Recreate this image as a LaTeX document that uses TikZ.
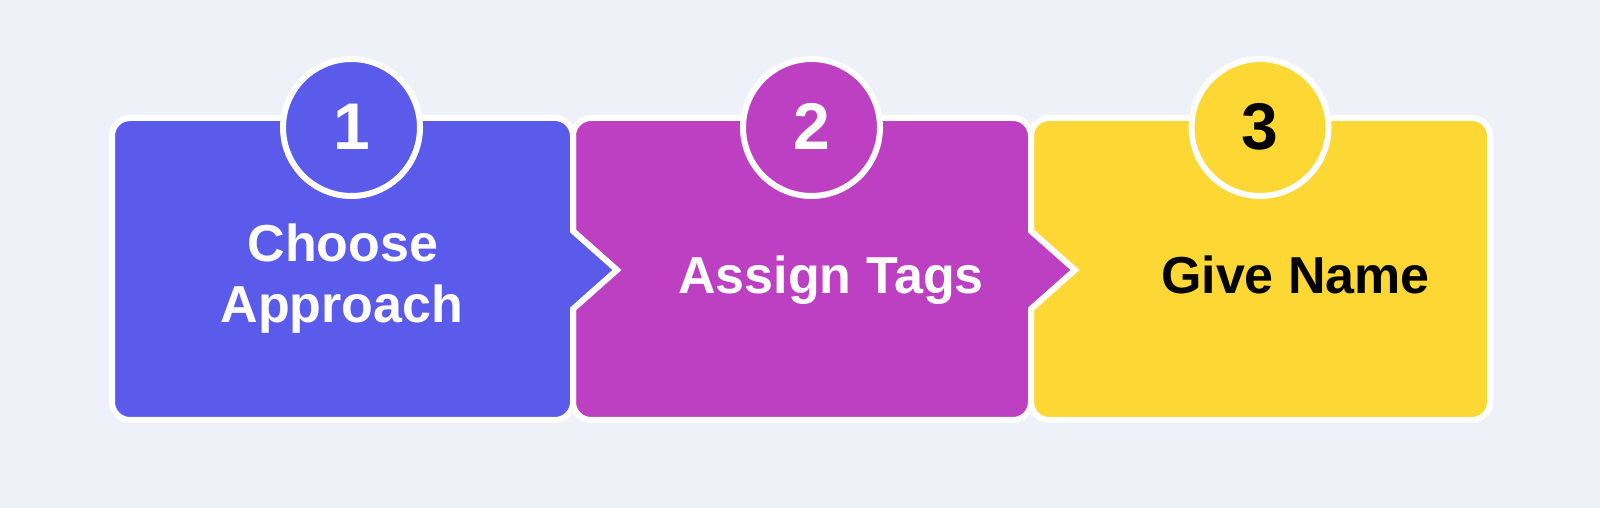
\documentclass[tikz,border=0pt]{standalone}
\usepackage{fontspec}
\setmainfont{Liberation Sans}
\definecolor{bgc}{HTML}{EEF1F8}
\definecolor{cblue}{HTML}{5A5BEB}
\definecolor{cpurple}{HTML}{BD3FC2}
\definecolor{cyellow}{HTML}{FDD733}
\tikzset{
  stepbox/.style={draw=white, line width=6pt, line join=miter},
  numcircle/.style={circle, draw=white, line width=6pt, minimum size=137pt, inner sep=0pt},
  numtext/.style={font=\fontsize{66}{66}\selectfont\bfseries, inner sep=0pt, anchor=base},
  labeltext/.style={font=\fontsize{52}{61}\selectfont\bfseries, inner sep=0pt, align=center},
}
\begin{document}
\begin{tikzpicture}[x=1pt,y=1pt]
\fill[bgc] (0,0) rectangle (1600,508);
\useasboundingbox (0,0) rectangle (1600,508);
% box 3
\path[stepbox, fill=cyellow] (1031,372) arc[start angle=180,end angle=90,radius=18] -- (1472,390) arc[start angle=90,end angle=0,radius=18] -- (1490,106) arc[start angle=0,end angle=-90,radius=18] -- (1049,88) arc[start angle=270,end angle=180,radius=18] -- cycle;
% box 2
\path[stepbox, fill=cpurple] (573,372) arc[start angle=180,end angle=90,radius=18] -- (1013,390) arc[start angle=90,end angle=0,radius=18] -- (1031,277) -- (1075,238) -- (1031,199) -- (1031,106) arc[start angle=0,end angle=-90,radius=18] -- (591,88) arc[start angle=270,end angle=180,radius=18] -- cycle;
% box 1
\path[stepbox, fill=cblue] (112,372) arc[start angle=180,end angle=90,radius=18] -- (555,390) arc[start angle=90,end angle=0,radius=18] -- (573,277) -- (617,238) -- (573,199) -- (573,106) arc[start angle=0,end angle=-90,radius=18] -- (130,88) arc[start angle=270,end angle=180,radius=18] -- cycle;
% circles
\node[numcircle, fill=cblue] (c1) at (351.5,380.5) {};
\node[numcircle, fill=cpurple] (c2) at (811.5,380.5) {};
\node[numcircle, fill=cyellow] (c3) at (1260,380.5) {};
\node[numtext, text=white] (n1) at (351.5,358) {1};
\node[numtext, text=white] (n2) at (811.5,358) {2};
\node[numtext, text=black] (n3) at (1260,358) {3};
% labels
\node[labeltext, text=white, anchor=base] (t1a) at (343,246) {Choose};
\node[labeltext, text=white, anchor=base] (t1b) at (342,185) {Approach};
\node[labeltext, text=white, anchor=base] (t2) at (831,214) {Assign Tags};
\node[labeltext, text=black, anchor=base] (t3) at (1295.5,214) {Give Name};
\end{tikzpicture}
\end{document}
